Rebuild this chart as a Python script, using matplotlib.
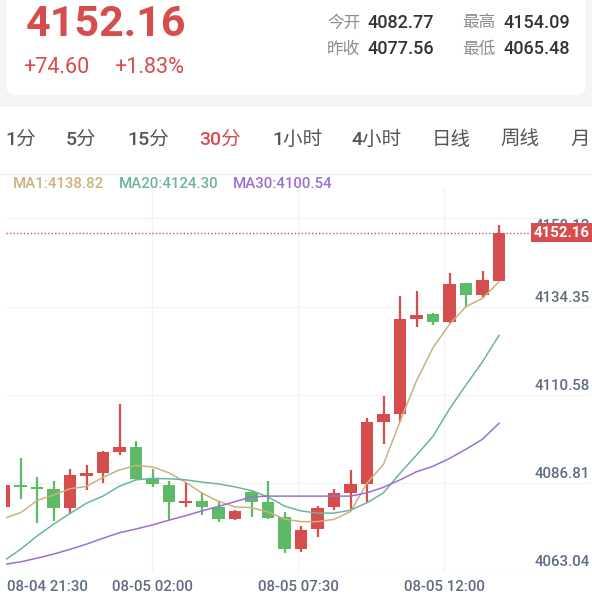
import numpy as np
import matplotlib
matplotlib.use('Agg')
import matplotlib.pyplot as plt
from matplotlib.patches import FancyBboxPatch, Rectangle
import matplotlib.transforms as mtransforms

W, H = 592, 596

# quote header
last_price = 4152.16
change = '+74.60'
change_pct = '+1.83%'
quote_names = ['今开', '最高', '昨收', '最低']
quote_values = ['4082.77', '4154.09', '4077.56', '4065.48']

periods = ['1分', '5分', '15分', '30分', '1小时', '4小时', '日线', '周线', '月']
active_period = '30分'

ma_names = ['MA1', 'MA20', 'MA30']
ma_last = [4138.82, 4124.30, 4100.54]

time_labels = ['08-04 21:30', '08-05 02:00', '08-05 07:30', '08-05 12:00']
price_levels = [4158.12, 4134.35, 4110.58, 4086.81, 4063.04]

# 30 min candles
opens = [4077.9, 4083.8, 4083.4, 4082.7, 4077.7, 4086.3, 4087.1, 4092.7, 4094.0, 4085.4,
         4083.9, 4078.9, 4079.5, 4077.9, 4074.6, 4082.0, 4079.1, 4075.1, 4066.4, 4071.8,
         4077.9, 4081.7, 4084.1, 4100.8, 4103.0, 4128.8, 4130.0, 4127.9, 4138.4, 4135.2,
         4139.1]
highs = [4084.0, 4091.2, 4085.9, 4085.0, 4088.1, 4089.1, 4093.0, 4105.7, 4095.8, 4088.1,
         4085.0, 4084.3, 4081.8, 4079.3, 4077.0, 4082.3, 4085.0, 4076.4, 4072.8, 4078.1,
         4082.7, 4087.9, 4101.9, 4107.9, 4135.0, 4136.3, 4130.5, 4141.1, 4138.6, 4141.7,
         4154.09]
lows = [4077.6, 4079.9, 4073.6, 4074.1, 4076.0, 4082.5, 4084.3, 4091.9, 4085.2, 4083.4,
        4074.3, 4077.9, 4075.7, 4073.9, 4074.3, 4075.1, 4074.7, 4065.5, 4065.6, 4069.7,
        4077.0, 4077.2, 4079.3, 4094.8, 4101.0, 4126.5, 4127.1, 4127.8, 4132.1, 4134.35,
        4139.1]
closes = [4083.8, 4083.2, 4082.8, 4077.7, 4086.5, 4087.0, 4092.7, 4094.0, 4085.4, 4084.0,
          4079.1, 4079.6, 4077.9, 4074.6, 4076.9, 4079.1, 4074.8, 4066.4, 4071.6, 4077.7,
          4081.6, 4084.1, 4100.8, 4103.0, 4128.7, 4129.8, 4127.9, 4138.2, 4135.2, 4139.2,
          4152.16]

ma1 = [4074.8, 4076.3, 4079.6, 4081.1, 4082.8, 4083.4, 4085.9, 4087.9, 4089.1, 4088.7,
       4087.1, 4084.6, 4081.6, 4079.4, 4077.9, 4077.7, 4076.5, 4074.6, 4073.9, 4073.9,
       4074.5, 4076.6, 4084.3, 4089.4, 4101.0, 4112.0, 4121.0, 4127.3, 4132.1, 4134.35,
       4138.82]
ma20 = [4063.3, 4066.4, 4070.0, 4073.2, 4076.1, 4078.9, 4080.8, 4083.5, 4085.2, 4085.6,
        4085.5, 4085.2, 4084.6, 4084.1, 4083.3, 4082.3, 4080.6, 4078.1, 4076.8, 4076.2,
        4076.2, 4077.0, 4079.0, 4081.7, 4087.0, 4091.9, 4097.0, 4104.4, 4110.9, 4117.2,
        4124.30]
ma30 = [4062.3, 4063.0, 4064.0, 4065.1, 4066.4, 4067.8, 4069.4, 4070.9, 4071.9, 4073.0,
        4074.3, 4075.5, 4076.8, 4078.0, 4079.3, 4080.6, 4080.8, 4080.8, 4080.8, 4080.8,
        4080.8, 4080.8, 4081.7, 4083.2, 4085.2, 4087.4, 4088.9, 4091.0, 4093.5, 4096.2,
        4100.54]

RED = '#d64d4d'
GREEN = '#5fba67'
MA_COLORS = ['#c9b27c', '#6db3a2', '#9b70d2']
AXIS_TXT = '#5d6b84'
GRID = '#f3f3f3'
NUM_FONT = ['Roboto', 'Noto Sans CJK SC']
CJK_FONT = ['Noto Sans CJK SC', 'Roboto']

fig = plt.figure(figsize=(W / 100, H / 100), dpi=100, facecolor='#f5f5f5')

# page background drawn in pixel coordinates
bg = fig.add_axes([0, 0, 1, 1])
bg.set_xlim(0, W)
bg.set_ylim(H, 0)
bg.axis('off')

card = FancyBboxPatch((6, -20), 580, 115, boxstyle='round,pad=0,rounding_size=10',
                      fc='white', ec='none')
bg.add_patch(card)
bg.add_patch(Rectangle((0, 107), W, H - 107, fc='white', ec='none'))
bg.plot([0, W], [173.5, 173.5], color='#eeeeee', lw=1)

bg.text(26, 36, f'{last_price:.2f}', color=RED, fontsize=31, fontweight='bold',
        family=NUM_FONT, va='baseline')
bg.text(23, 73, change, color=RED, fontsize=15.5, family=NUM_FONT, va='baseline')
bg.text(114, 73, change_pct, color=RED, fontsize=15.5, family=NUM_FONT, va='baseline')

name_x = [327, 462, 327, 462]
val_x = [368, 503, 368, 503]
row_y = [27.5, 54]
for i, (nm, vl) in enumerate(zip(quote_names, quote_values)):
    y = row_y[i // 2]
    bg.text(name_x[i], y, nm, color='#8c8c8c', fontsize=12, family=CJK_FONT, va='baseline')
    bg.text(val_x[i], y, vl, color='#333333', fontsize=13, fontweight='medium',
            family=NUM_FONT, va='baseline')

tab_x = [5, 66, 127, 199, 272, 352, 432, 500, 570]
for tx, p in zip(tab_x, periods):
    c = RED if p == active_period else '#555555'
    bg.text(tx, 145, p, color=c, fontsize=14, fontweight='medium', family=NUM_FONT,
            va='baseline')

leg_x = [13, 119, 233]
for lx, nm, v, c in zip(leg_x, ma_names, ma_last, MA_COLORS):
    bg.text(lx, 187.5, f'{nm}:{v:.2f}', color=c, fontsize=10.8, fontweight='medium',
            family=NUM_FONT, va='baseline')

# candlestick area
ax = fig.add_axes([6 / W, (H - 572) / H, 584 / W, 384 / H])
ax.set_facecolor('none')
for s in ax.spines.values():
    s.set_visible(False)
ax.set_xticks([])
ax.set_yticks([])
ax.set_xlim(0.121, 35.515)
ax.set_ylim(4060.26, 4164.21)

for fy in [0.0, 0.2318, 0.4609, 0.6901, 0.9219]:
    ax.plot([0, 1], [fy, fy], transform=ax.transAxes, color=GRID, lw=1, zorder=0)
for fx in [0.25, 0.5, 0.75]:
    ax.plot([fx, fx], [0, 1], transform=ax.transAxes, color=GRID, lw=1, zorder=0)

x = np.arange(len(opens))
o = np.array(opens)
c = np.array(closes)
hi = np.array(highs)
lo = np.array(lows)
colors = [RED if cc >= oo else GREEN for oo, cc in zip(o, c)]
body_bottom = np.minimum(o, c)
body_h = np.maximum(np.abs(c - o), 0.55)
ax.vlines(x, lo, hi, colors=colors, lw=1.6, zorder=2)
ax.bar(x, body_h, bottom=body_bottom, width=0.76, color=colors, zorder=3, lw=0)

for vals, col in zip([ma1, ma20, ma30], MA_COLORS):
    ax.plot(x, vals, color=col, lw=1.1, zorder=4)

ytrans = ax.get_yaxis_transform()
for i, lv in enumerate(price_levels):
    tr = ytrans
    if i == 0:
        tr = mtransforms.offset_copy(ytrans, fig=fig, y=-16, units='dots')
    ax.text(1.0, lv, f'{lv:.2f}', transform=tr, ha='right', va='center',
            color=AXIS_TXT, fontsize=10.8, fontweight='medium', family=NUM_FONT,
            zorder=5, clip_on=False)

ax.axhline(last_price, xmin=0, xmax=(536 - 6) / 584, color=RED, lw=1,
           ls=(0, (1, 1.5)), zorder=5)
ax.text(1.0, last_price, f'{last_price:.2f}', transform=ytrans, ha='right', va='center',
        color='white', fontsize=10.8, fontweight='bold', family=NUM_FONT, zorder=6,
        bbox=dict(boxstyle='square,pad=0.18', fc=RED, ec='none'), clip_on=False)

for i, lab in enumerate(time_labels):
    fx = 0.25 * i
    ax.text(fx + (1 / 584 if i == 0 else 0), -0.04, lab, transform=ax.transAxes,
            ha='left' if i == 0 else 'center', va='center', color=AXIS_TXT,
            fontsize=10.8, fontweight='medium', family=NUM_FONT, clip_on=False)

fig.savefig('out.png', dpi=100, facecolor=fig.get_facecolor())
